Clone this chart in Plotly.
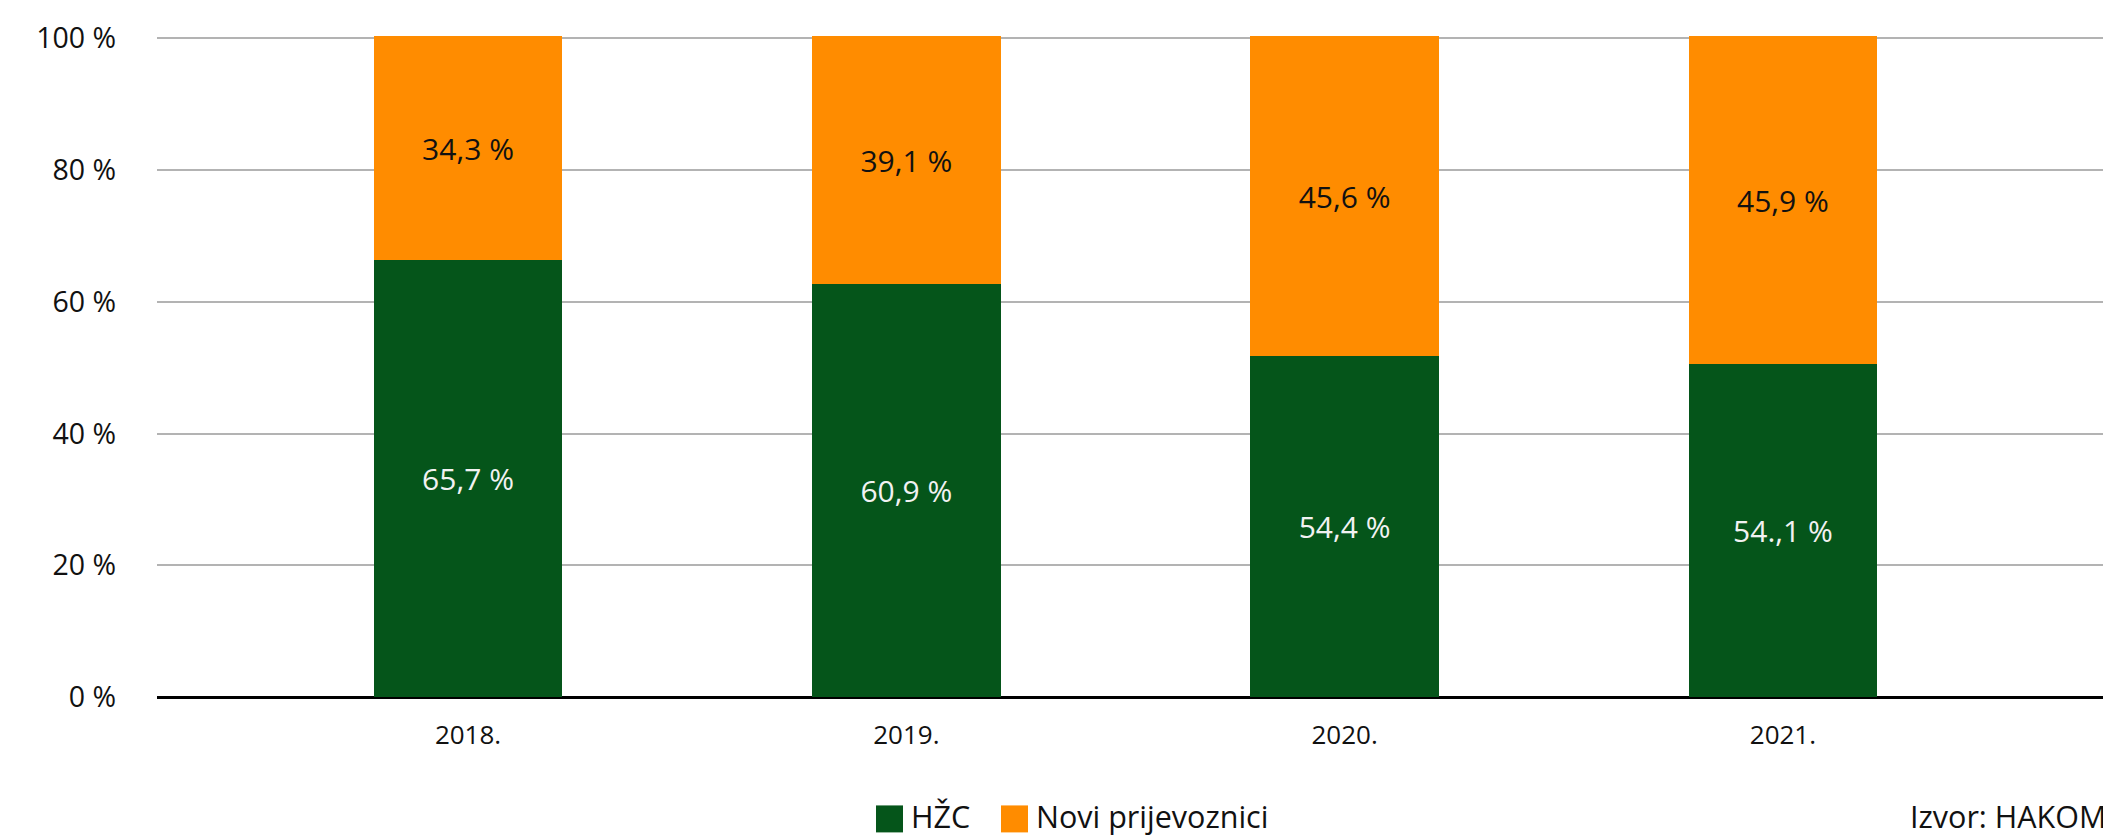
import plotly.graph_objects as go

# ---- data ----
years = ["2018.", "2019.", "2020.", "2021."]
hzc_share = [66.3, 62.7, 51.8, 50.6]          # bar heights (green)
novi_share = [34.0, 37.6, 48.5, 49.7]         # bar heights (orange)
hzc_labels = ["65,7 %", "60,9 %", "54,4 %", "54.,1 %"]
novi_labels = ["34,3 %", "39,1 %", "45,6 %", "45,9 %"]
y_ticks = [0, 20, 40, 60, 80, 100]
y_tick_labels = ["0 %", "20 %", "40 %", "60 %", "80 %", "100 %"]
series_names = ["HŽC", "Novi prijevoznici"]
source_text = "Izvor: HAKOM"

GREEN = "#05551A"
ORANGE = "#FF8C00"
FONT = "Open Sans"

# the page body adds an 8px offset; figure pixel = screen pixel - 8
OFF = 8
W, H = 2111, 836
ML, MR, MT, MB = 149, 0, 4, 146.5
plot_w = W - ML - MR
plot_h = H - MT - MB

fig = go.Figure()
fig.add_trace(go.Bar(
    x=years, y=hzc_share, name=series_names[0],
    marker=dict(color=GREEN, line=dict(width=0)),
    text=hzc_labels, textposition="inside", insidetextanchor="middle",
    textfont=dict(family=FONT, size=30, color="#F2F2F2"),
    width=0.43, showlegend=False, hoverinfo="skip",
))
fig.add_trace(go.Bar(
    x=years, y=novi_share, name=series_names[1],
    marker=dict(color=ORANGE, line=dict(width=0)),
    text=novi_labels, textposition="inside", insidetextanchor="middle",
    textfont=dict(family=FONT, size=30, color="#111111"),
    width=0.43, showlegend=False, hoverinfo="skip",
))

def px_x(sx):
    return (sx - OFF - ML) / plot_w

def px_y(sy):
    return (H - MB - (sy - OFF)) / plot_h

shapes = []
annotations = []
# manual legend (large square swatches); positions in screen pixels
legend_items = [(876, GREEN, series_names[0]), (1001, ORANGE, series_names[1])]
for left, col, name in legend_items:
    shapes.append(dict(type="rect", xref="paper", yref="paper",
                       x0=px_x(left), x1=px_x(left + 27),
                       y0=px_y(833), y1=px_y(806),
                       fillcolor=col, line=dict(width=0)))
    annotations.append(dict(xref="paper", yref="paper", x=px_x(left + 33), y=px_y(817),
                            xanchor="left", yanchor="middle", showarrow=False,
                            text=name, font=dict(family=FONT, size=30.5, color="#111111")))
annotations.append(dict(xref="paper", yref="paper", x=px_x(2108), y=px_y(817),
                        xanchor="right", yanchor="middle", showarrow=False,
                        text=source_text, font=dict(family=FONT, size=30.5, color="#111111")))

fig.update_layout(
    width=W, height=H,
    margin=dict(l=ML, r=MR, t=MT, b=MB, autoexpand=False),
    barmode="stack",
    plot_bgcolor="white", paper_bgcolor="white",
    font=dict(family=FONT, size=27, color="#111111"),
    shapes=shapes, annotations=annotations,
)
fig.update_xaxes(
    type="category", range=[-0.7096, 3.7668], automargin=False,
    showgrid=False, showline=False, ticks="",
    tickfont=dict(family=FONT, size=26, color="#111111"),
    ticklabelstandoff=20,
)
fig.update_yaxes(
    range=[0, 104], tickmode="array", tickvals=y_ticks, ticktext=y_tick_labels,
    automargin=False,
    showgrid=True, gridcolor="#B3B3B3", gridwidth=1.5,
    zeroline=True, zerolinecolor="#000000", zerolinewidth=2.5,
    showline=False, ticks="",
    tickfont=dict(family=FONT, size=28.5, color="#111111"),
    ticklabelstandoff=40,
)

fig.write_html("out.html")
